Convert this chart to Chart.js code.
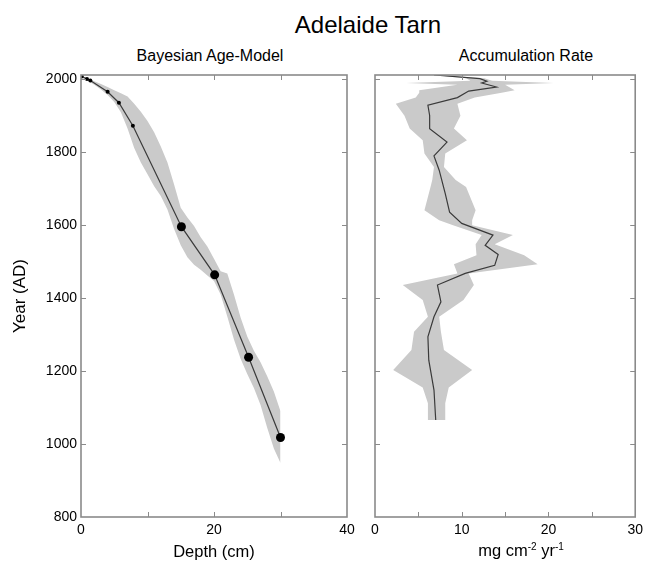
<!DOCTYPE html>
<html>
<head>
<meta charset="utf-8">
<script src="https://cdn.jsdelivr.net/npm/chart.js@4.4.1/dist/chart.umd.min.js"></script>
<style>
  body { margin: 0; background: #fff; width: 648px; height: 562px; overflow: hidden; position: relative;
         font-family: "Liberation Sans", Arial, sans-serif; color: #000; }
  canvas { position: absolute; top: 0; }
  .t { position: absolute; white-space: nowrap; transform: translateX(-50%); }
  .sup { font-size: 10px; position: relative; top: -6px; }
</style>
</head>
<body>
<div class="t" style="left:368px;top:13px;font-size:24px;line-height:24px">Adelaide Tarn</div>
<div class="t" style="left:210px;top:48px;font-size:16px;line-height:16px">Bayesian Age-Model</div>
<div class="t" style="left:526px;top:48px;font-size:16px;line-height:16px">Accumulation Rate</div>
<canvas id="ageChart" width="360" height="562" style="left:0"></canvas>
<canvas id="rateChart" width="288" height="562" style="left:360px"></canvas>
<div class="t" style="left:521px;top:542px;font-size:16.5px;line-height:16px">mg cm<span class="sup">-2</span> yr<span class="sup">-1</span></div>
<script>
// tick labels
const yearTicks = [800, 1000, 1200, 1400, 1600, 1800, 2000];
const depthTicks = [0, 20, 40];
const rateTicks = [0, 10, 20, 30];

// age model: depth (cm) vs year AD
const bandDepth = [0, 1, 2, 3, 4, 5, 6, 7, 8, 9, 10, 11, 12, 13, 14, 15, 16, 17, 18, 19, 20, 21, 22, 23, 24, 25, 26, 27, 28, 29, 30];
const bandYoung = [2010, 2003, 1995, 1987, 1979, 1970, 1962, 1953, 1933, 1911, 1886, 1855, 1816, 1772, 1712, 1648, 1621, 1598, 1567, 1542, 1508, 1474, 1468, 1410, 1347, 1295, 1256, 1224, 1186, 1144, 1090];
const bandOld = [2006, 1996, 1985, 1972, 1957, 1938, 1910, 1865, 1812, 1772, 1740, 1707, 1680, 1643, 1590, 1545, 1512, 1492, 1478, 1462, 1447, 1410, 1350, 1287, 1234, 1192, 1154, 1107, 1045, 988, 948];

const modelDepth = [0, 0.9, 1.4, 4.0, 5.7, 7.8, 15.1, 20.1, 25.2, 30];
const modelYear = [2009, 2001, 1997, 1966, 1936, 1873, 1596, 1464, 1238, 1018];

const pbDepth = [0.1, 0.9, 1.4, 4.0, 5.7, 7.8];
const pbYear = [2008, 2001, 1997, 1966, 1936, 1873];
const c14Depth = [15.1, 20.1, 25.2, 30];
const c14Year = [1596, 1464, 1238, 1018];

// accumulation rate (mg cm-2 yr-1) vs year AD
const rateYear = [2012, 2002, 1995, 1990, 1979, 1968, 1950, 1929, 1901, 1865, 1828, 1790, 1751, 1687, 1636, 1605, 1573, 1545, 1520, 1490, 1468, 1436, 1390, 1349, 1294, 1230, 1148, 1066];
const rate = [6.8, 12.1, 12.9, 12.3, 14.0, 10.8, 9.5, 6.1, 6.3, 6.3, 8.3, 6.8, 7.4, 8.1, 8.6, 10.0, 13.6, 12.7, 14.2, 13.8, 10.4, 7.2, 7.6, 6.8, 6.1, 6.2, 6.8, 7.0];

const rateBandYear = [2012, 2003, 1996, 1990, 1985, 1970, 1963, 1950, 1933, 1900, 1865, 1833, 1797, 1760, 1724, 1705, 1641, 1614, 1600, 1573, 1548, 1518, 1493, 1468, 1436, 1395, 1349, 1308, 1258, 1203, 1155, 1112, 1066];
const rateLow = [6.8, 10.5, 11.0, 3.6, 9.5, 5.1, 5.1, 4.7, 2.4, 3.4, 4.0, 5.5, 5.7, 6.8, 6.6, 6.4, 5.7, 7.4, 9.0, 12.3, 11.6, 11.7, 9.1, 9.5, 3.2, 5.5, 6.1, 4.5, 4.2, 2.1, 5.5, 6.1, 6.1];
const rateHigh = [7.2, 12.6, 13.5, 20.6, 15.0, 16.1, 14.6, 11.5, 9.5, 9.85, 9.1, 10.6, 8.1, 7.95, 9.3, 10.5, 11.6, 11.2, 11.2, 15.9, 13.8, 17.2, 18.75, 10.8, 11.4, 10.2, 7.4, 7.6, 7.95, 11.2, 8.5, 8.1, 8.1];

const pts = (xs, ys) => xs.map((x, i) => ({ x: x, y: ys[i] }));

Chart.defaults.font.family = '"Liberation Sans", Arial, sans-serif';
Chart.defaults.color = '#000';

const FRAME = '#8a8a8a';
const BAND = '#cacaca';

// box round the plot with short inward tick marks (MATLAB style)
const frameTicks = {
  id: 'frameTicks',
  afterDatasetsDraw(chart, args, opts) {
    const { ctx, chartArea: a, scales: { x, y } } = chart;
    ctx.save();
    ctx.strokeStyle = FRAME;
    ctx.lineWidth = 1;
    ctx.beginPath();
    for (let v = x.min + opts.xStep; v < x.max; v += opts.xStep) {
      const px = Math.round(x.getPixelForValue(v)) + 0.5;
      ctx.moveTo(px, a.bottom); ctx.lineTo(px, a.bottom - 5);
      ctx.moveTo(px, a.top); ctx.lineTo(px, a.top + 5);
    }
    yearTicks.slice(1).forEach((v) => {
      const py = Math.round(y.getPixelForValue(v)) + 0.5;
      ctx.moveTo(a.left, py); ctx.lineTo(a.left + 5, py);
      ctx.moveTo(a.right, py); ctx.lineTo(a.right - 5, py);
    });
    ctx.stroke();
    ctx.lineWidth = 1.6;
    ctx.strokeRect(a.left, a.top, a.width, a.height);
    ctx.restore();
  }
};

const setTicks = (list) => (s) => { s.ticks = list.map((v) => ({ value: v })); };

const yearAxis = (showLabels, width) => ({
  type: 'linear', min: 800, max: 2012,
  grid: { display: false, drawTicks: false }, border: { display: false },
  afterBuildTicks: setTicks(yearTicks),
  ticks: { display: showLabels, padding: 4, font: { size: 14 }, callback: (v) => String(v) },
  afterFit: (s) => { s.width = width; }
});

const xAxis = (max, list, title) => ({
  type: 'linear', min: 0, max: max,
  grid: { display: false, drawTicks: false }, border: { display: false },
  afterBuildTicks: setTicks(list),
  ticks: { padding: 5, font: { size: 14 }, maxRotation: 0, callback: (v) => String(v) },
  title: { display: !!title, text: title, font: { size: 16.5 }, padding: { top: 4, bottom: 0 } },
  afterFit: (s) => { s.height = 45; }
});

const ageY = yearAxis(true, 81);
ageY.title = { display: true, text: 'Year (AD)', font: { size: 17 }, padding: { top: 10, bottom: 0 } };

new Chart(document.getElementById('ageChart'), {
  type: 'line',
  data: {
    datasets: [
      { data: pts(c14Depth, c14Year), showLine: false, pointRadius: 4.5, pointBackgroundColor: '#000', pointBorderWidth: 0 },
      { data: pts(pbDepth, pbYear), showLine: false, pointRadius: 2, pointBackgroundColor: '#000', pointBorderWidth: 0 },
      { data: pts(modelDepth, modelYear), borderColor: '#3a3a3a', borderWidth: 1.2, pointRadius: 0, tension: 0 },
      { data: pts(bandDepth, bandYoung), borderWidth: 0, pointRadius: 0, backgroundColor: BAND, fill: '+1' },
      { data: pts(bandDepth, bandOld), borderWidth: 0, pointRadius: 0 }
    ]
  },
  options: {
    responsive: false, animation: false, devicePixelRatio: 1,
    layout: { padding: { top: 75, right: 13, bottom: 0, left: 0 } },
    plugins: { legend: { display: false }, tooltip: { enabled: false }, frameTicks: { xStep: 10 } },
    scales: { x: xAxis(40, depthTicks, 'Depth (cm)'), y: ageY }
  },
  plugins: [frameTicks]
});

new Chart(document.getElementById('rateChart'), {
  type: 'line',
  data: {
    datasets: [
      { data: pts(rate, rateYear), borderColor: '#3a3a3a', borderWidth: 1.2, pointRadius: 0, tension: 0 },
      { data: pts(rateLow, rateBandYear), borderWidth: 0, pointRadius: 0, backgroundColor: BAND, fill: '+1' },
      { data: pts(rateHigh, rateBandYear), borderWidth: 0, pointRadius: 0 }
    ]
  },
  options: {
    indexAxis: 'y',
    responsive: false, animation: false, devicePixelRatio: 1,
    layout: { padding: { top: 75, right: 9, bottom: 0, left: 0 } },
    plugins: { legend: { display: false }, tooltip: { enabled: false }, frameTicks: { xStep: 5 } },
    scales: { x: xAxis(30, rateTicks, ''), y: yearAxis(false, 15) }
  },
  plugins: [frameTicks]
});
</script>
</body>
</html>
